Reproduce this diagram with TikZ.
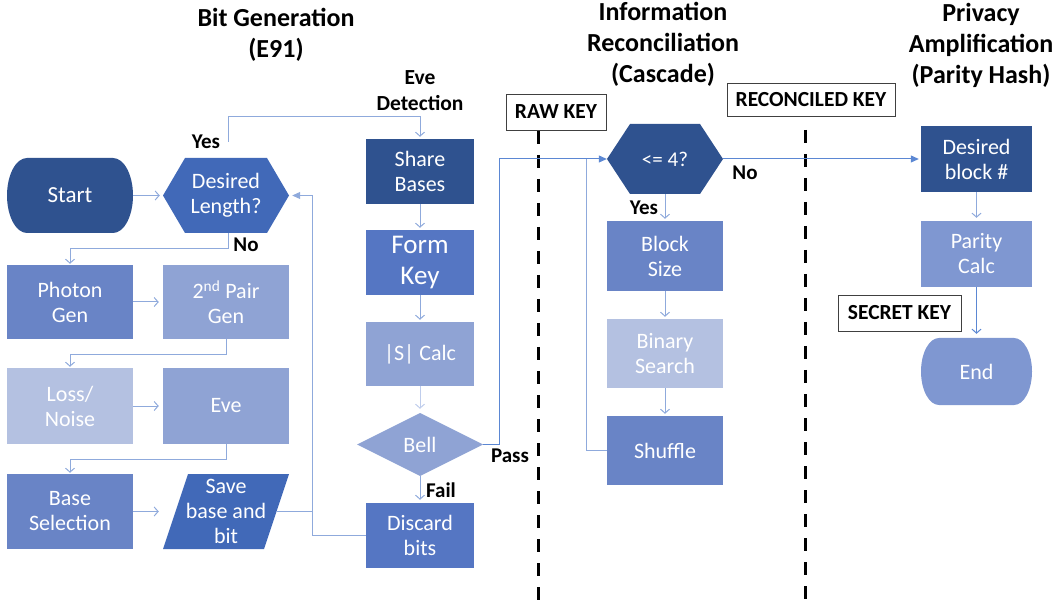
\documentclass[tikz,border=0pt]{standalone}
\usepackage{fontspec}
\setmainfont{Carlito}
\usetikzlibrary{arrows.meta}
\definecolor{cdark}{HTML}{2F528F}
\definecolor{cacc}{HTML}{4169B8}
\definecolor{cmed}{HTML}{6984C6}
\definecolor{cform}{HTML}{5576C3}
\definecolor{clm}{HTML}{8FA3D4}
\definecolor{clight}{HTML}{B4C1E1}
\definecolor{cpar}{HTML}{7F97D1}
\definecolor{cline}{HTML}{8FAADC}
\definecolor{clinel}{HTML}{BFCDEC}
\definecolor{cline2}{HTML}{5B87D3}
\definecolor{ckey}{HTML}{404040}
\tikzset{
  base/.style={rectangle, inner sep=0pt, align=center, text=white,
    font=\fontsize{22}{25}\selectfont},
  sz/.style 2 args={minimum width=#1pt, minimum height=#2pt},
  boxf/.style={base, fill=#1},
  hexa/.style 2 args={base, path picture={\fill[#1]
    (path picture bounding box.west) --
    ([xshift=#2pt]path picture bounding box.north west) --
    ([xshift=-#2pt]path picture bounding box.north east) --
    (path picture bounding box.east) --
    ([xshift=-#2pt]path picture bounding box.south east) --
    ([xshift=#2pt]path picture bounding box.south west) -- cycle;}},
  diam/.style={base, path picture={\fill[#1]
    (path picture bounding box.west) -- (path picture bounding box.north) --
    (path picture bounding box.east) -- (path picture bounding box.south) -- cycle;}},
  para/.style={base, path picture={\fill[#1]
    ([xshift=25pt]path picture bounding box.north west) --
    (path picture bounding box.north east) --
    ([xshift=-25pt]path picture bounding box.south east) --
    (path picture bounding box.south west) -- cycle;}},
  term/.style n args={3}{base, path picture={\fill[#1]
    ([xshift=#2pt]path picture bounding box.north west) --
    ([xshift=-#2pt]path picture bounding box.north east)
      arc[start angle=90,end angle=-90,x radius=#2pt,y radius=#3pt] --
    ([xshift=#2pt]path picture bounding box.south west)
      arc[start angle=270,end angle=90,x radius=#2pt,y radius=#3pt] -- cycle;}},
  keybox/.style={draw=ckey, line width=0.9pt, fill=white, inner sep=0pt,
    font=\bfseries\fontsize{21.5}{24}\selectfont},
  ttl/.style={align=center, font=\bfseries\fontsize{26}{31}\selectfont},
  lbl/.style={font=\bfseries\fontsize{21}{24}\selectfont},
  conn/.style={draw=cline, line width=1pt, -{Straight Barb[length=4pt,width=9pt]}},
  connl/.style={draw=clinel, line width=1pt, -{Straight Barb[length=4pt,width=9pt]}},
  connf/.style={draw=#1, line width=1pt, -{Triangle[length=8pt,width=7pt]}},
  plain/.style={draw=cline, line width=1pt},
  divider/.style={draw=black, line width=3pt, dash pattern=on 13pt off 11pt},
}
\begin{document}
\begin{tikzpicture}[x=1pt,y=-1pt]
\useasboundingbox (0,0) rectangle (1060,601);

% titles
\node[ttl] (t1) at (276,35) {Bit Generation\\(E91)};
\node[ttl] (t2) at (663,44) {Information\\Reconciliation\\(Cascade)};
\node[ttl] (t3) at (981,45) {Privacy\\Amplification\\(Parity Hash)};
\node[align=center, font=\bfseries\fontsize{21.5}{26}\selectfont] (t4) at (420,91) {Eve\\Detection};

% left column
\node[term={cdark}{20}{37.5}, sz={126}{75}, font=\fontsize{23}{26}\selectfont] (start) at (70,195.5) {Start};
\node[hexa={cacc}{22}, sz={126}{75}] (dl) at (226,195.5) {Desired\\Length?};
\node[boxf=cmed, sz={126}{74}] (photon) at (70,302) {Photon\\Gen};
\node[boxf=clm, sz={126}{74}] (pair) at (226,302) {2\textsuperscript{nd} Pair\\Gen};
\node[boxf=clight, sz={126}{76}] (loss) at (70,406) {Loss/\\Noise};
\node[boxf=clm, sz={126}{76}] (eve) at (226,406) {Eve};
\node[boxf=cmed, sz={126}{75}] (basesel) at (70,511.5) {Base\\Selection};
\node[para=cacc, sz={126}{75}, font=\fontsize{22}{25}\selectfont] (save) at (226,511.5) {Save\\base and\\bit};

% middle column
\node[boxf=cdark, sz={108}{65}] (share) at (420,171.5) {Share\\Bases};
\node[boxf=cform, sz={108}{65}, font=\fontsize{27}{31}\selectfont] (form) at (420,262.5) {Form\\Key};
\node[boxf=clm, sz={108}{64}] (scalc) at (420,354) {|S| Calc};
\node[diam=clm, sz={126}{63}] (bell) at (420,444.5) {Bell};
\node[boxf=cform, sz={108}{65}] (discard) at (420,535.5) {Discard\\bits};

% reconciliation column
\node[hexa={cdark}{23}, sz={116}{70}, font=\fontsize{21}{24}\selectfont] (le4) at (665,159) {<= 4?};
\node[boxf=cmed, sz={116}{70}] (block) at (665,256) {Block\\Size};
\node[boxf=clight, sz={116}{69}] (binary) at (665,353.5) {Binary\\Search};
\node[boxf=cmed, sz={116}{69}] (shuffle) at (665,450.5) {Shuffle};

% privacy column
\node[boxf=cdark, sz={111}{66}] (dblock) at (976.5,159) {Desired\\block \#};
\node[boxf=cpar, sz={111}{66}] (parity) at (976.5,254) {Parity\\Calc};
\node[term={cpar}{18}{33.5}, sz={111}{67}] (end) at (976.5,371.5) {End};

% key boxes
\node[keybox, sz={100}{36}] (rawkey) at (556,112) {RAW KEY};
\node[keybox, sz={168}{33}] (reckey) at (811,99.5) {RECONCILED KEY};
\node[keybox, sz={123}{36}] (seckey) at (899.5,313) {SECRET KEY};

% dividers
\coordinate (d1a) at (538,131);
\coordinate (d1b) at (538,601);
\coordinate (d2a) at (805,130);
\coordinate (d2b) at (805,601);
\draw[divider] (d1a) -- (d1b);
\draw[divider] (d2a) -- (d2b);

% connectors, left
\draw[conn, shorten >=3pt] (start.east) -- (dl.west);
\coordinate (yesS) at (228,142);
\draw[conn, shorten >=2pt] (yesS) -- (228,117) -| (share.north);
\node[lbl] (yes1) at (206,142) {Yes};
\draw[conn, shorten >=1pt] ([xshift=2pt]dl.south) -- ++(0,15) -| (photon.north);
\node[lbl] (no1) at (246,245) {No};
\draw[conn, shorten >=4pt] (photon.east) -- (pair.west);
\draw[conn, shorten >=1pt] (pair.south) -- ++(0,15) -| (loss.north);
\draw[conn, shorten >=4pt] (loss.east) -- (eve.west);
\draw[conn, shorten >=1pt] (eve.south) -- ++(0,15) -| (basesel.north);
\draw[conn, shorten >=4pt] (basesel.east) -- (save.west);
\draw[connf=cline, shorten >=3pt] (discard.west) -| ([xshift=23pt]dl.east) -- (dl.east);
\draw[plain] ([xshift=-12pt]save.east) -- ([xshift=23pt]dl.east |- save.east);

% connectors, middle
\draw[conn, shorten >=2pt] (share.south) -- (form.north);
\draw[conn, shorten >=2pt] (form.south) -- (scalc.north);
\draw[connl, shorten >=4pt] (scalc.south) -- (bell.north);
\draw[conn, shorten >=3pt] (bell.south) -- (discard.north);
\node[lbl] (fail) at (441,490) {Fail};
\draw[connf=cline2] (bell.east) -- ++(16,0) |- (le4.west);
\draw[plain] (shuffle.west) -| ([xshift=-20pt]le4.west);
\node[lbl] (pass) at (510,456) {Pass};

% connectors, reconciliation
\draw[conn, shorten >=2pt] (le4.south) -- (block.north);
\node[lbl] (yes2) at (644,208) {Yes};
\draw[conn, shorten >=2pt] (block.south) -- (binary.north);
\draw[conn, shorten >=2pt] (binary.south) -- (shuffle.north);
\draw[connf=cline2, shorten >=2pt] (le4.east) -- (dblock.west);
\node[lbl] (no2) at (745,173) {No};

% connectors, privacy
\draw[conn, shorten >=3pt] (dblock.south) -- (parity.north);
\draw[connf=cline2, -{Straight Barb[length=4pt,width=9pt]}, shorten >=4pt] (parity.south) -- (end.north);
\end{tikzpicture}
\end{document}
